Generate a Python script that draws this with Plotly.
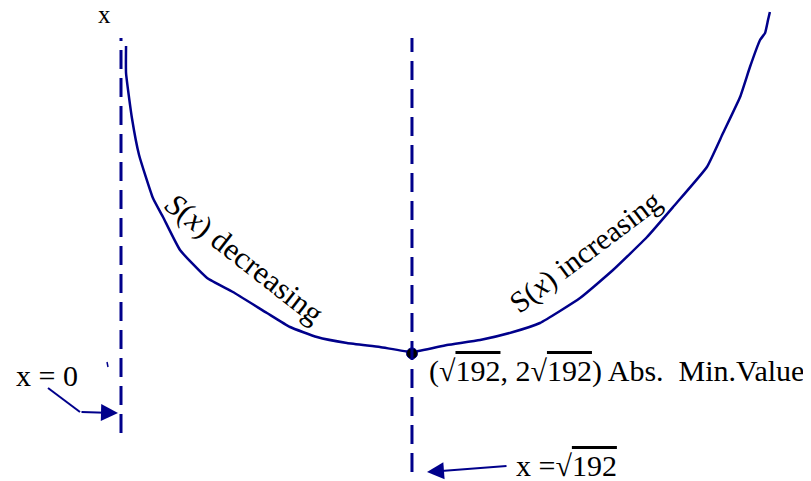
import plotly.graph_objects as go

# curve S(x) (x in units where sqrt(192) ~ 13.86)
curve_x = [0.24, 0.24, 0.52, 0.86, 1.52, 2.0, 2.81, 4.10, 5.33, 6.95, 8.05, 9.33,
           10.76, 12.33, 13.86, 15.52, 17.10, 18.67, 19.95, 21.86, 23.43, 25.05,
           26.29, 27.90, 28.67, 29.48, 29.95, 30.43, 30.67, 30.81, 30.90]
curve_y = [43.01, 41.66, 39.41, 37.56, 35.41, 34.46, 32.81, 31.41, 30.71, 29.66,
           28.96, 28.46, 28.16, 27.96, 27.71, 28.06, 28.31, 28.71, 29.16, 30.41,
           31.81, 33.46, 34.96, 36.96, 38.66, 40.46, 41.96, 43.31, 43.66, 44.31, 44.71]

min_x = 13.856   # sqrt(192)
min_y = 27.71    # scaled 2*sqrt(192)
vline_x = [0.0, 13.856]
vline_top = [43.41, 43.41]
vline_bottom = [23.66, 21.71]

NAVY = "#00008B"
FONT = "Liberation Serif, Times New Roman, serif"

# pixel <-> data helpers for layout-only placement
PX_UNIT = 21.0
def dx(px):
    return (px - 121) / PX_UNIT
def dy(py):
    return 27.71 + (352 - py) / 20.0

# page body has an 8px margin: figure is drawn from (8, 8)
OFF = 8

fig = go.Figure()
fig.add_trace(go.Scatter(x=curve_x, y=curve_y, mode="lines",
                         line=dict(color=NAVY, width=2.5, shape="spline", smoothing=0.4),
                         hoverinfo="skip"))
fig.add_trace(go.Scatter(x=[min_x], y=[min_y - 0.07], mode="markers",
                         marker=dict(color="black", size=11, symbol="circle",
                                     line=dict(color=NAVY, width=1)),
                         hoverinfo="skip"))

for vx, vt, vb in zip(vline_x, vline_top, vline_bottom):
    fig.add_shape(type="line", x0=vx, x1=vx, y0=vb, y1=vt, xref="x", yref="y",
                  line=dict(color=NAVY, width=3, dash="19px,9px"))

# bent arrow for x = 0
fig.add_shape(type="line", x0=dx(48), y0=dy(388), x1=dx(80), y1=dy(412),
              line=dict(color=NAVY, width=2))
fig.add_annotation(x=dx(118), y=dy(413), ax=dx(80), ay=dy(412), axref="x", ayref="y",
                   xref="x", yref="y", text="", showarrow=True, arrowhead=2,
                   arrowsize=1.7, arrowwidth=2, arrowcolor=NAVY)
# arrow for x = sqrt(192)
fig.add_annotation(x=dx(427), y=dy(472), ax=dx(508), ay=dy(466), axref="x", ayref="y",
                   xref="x", yref="y", text="", showarrow=True, arrowhead=2,
                   arrowsize=1.7, arrowwidth=2, arrowcolor=NAVY)
# stray tick
fig.add_shape(type="line", x0=dx(107), y0=dy(362), x1=dx(108), y1=dy(367),
              line=dict(color=NAVY, width=1.5))

OL = "<span style='text-decoration:overline'>192</span>"
texts = [
    dict(text="x", px=104, py=14, size=25, xanchor="center", angle=0),
    dict(text="x = 0", px=14, py=375, size=30, xanchor="left", angle=0),
    dict(text="x =√" + OL, px=514, py=465, size=30, xanchor="left", angle=0),
    dict(text="(√" + OL + ", 2√" + OL + ") Abs.  Min.Value", px=427, py=371,
         size=30, xanchor="left", angle=0),
    dict(text="<i>S</i>(<i>x</i>) decreasing", px=245, py=258, size=31,
         xanchor="center", angle=38),
    dict(text="S(<i>x</i>) increasing", px=585, py=252, size=30,
         xanchor="center", angle=-37),
]
for t in texts:
    fig.add_annotation(x=dx(t["px"]), y=dy(t["py"]), xref="x", yref="y",
                       text=t["text"], showarrow=False, xanchor=t["xanchor"],
                       yanchor="middle", textangle=t["angle"],
                       font=dict(family=FONT, size=t["size"], color="black"))

fig.update_layout(width=811 - OFF, height=481 - OFF, margin=dict(l=0, r=0, t=0, b=0),
                  paper_bgcolor="white", plot_bgcolor="white", showlegend=False,
                  xaxis=dict(visible=False, range=[dx(OFF), dx(811)], fixedrange=True),
                  yaxis=dict(visible=False, range=[dy(481), dy(OFF)], fixedrange=True))
fig.write_html("out.html", config={"displayModeBar": False})
